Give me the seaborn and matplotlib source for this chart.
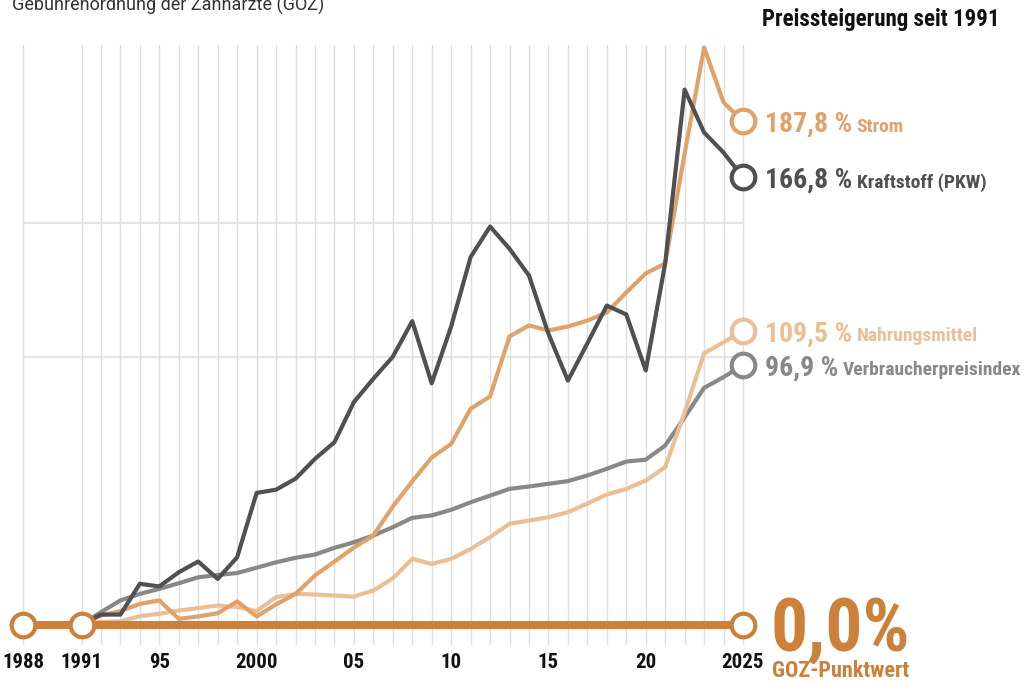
import matplotlib
matplotlib.use("Agg")
import matplotlib.pyplot as plt
import seaborn as sns
import pandas as pd
from matplotlib import font_manager

# -----------------------------------------------------
# DATA  (Preissteigerung seit 1991 in %)
# -----------------------------------------------------
years = list(range(1991, 2026))

kraftstoff = [0, 3.7, 3.7, 15.2, 14.2, 19.5, 23.5, 17.0, 25.1, 49.1,
              50.3, 54.4, 61.8, 68.0, 83.0, 91.7, 99.9, 113.2, 90.0, 111.2,
              137.1, 148.5, 140.2, 130.2, 108.5, 91.0, 104.9, 119.0, 115.7, 94.8,
              134.7, 199.6, 183.6, 176.1, 166.8]

strom = [0, 3.4, 5.0, 7.7, 9.0, 2.1, 3.0, 4.2, 8.6, 3.0,
         7.5, 11.4, 18.3, 23.5, 28.7, 33.2, 44.0, 53.4, 62.3, 67.4,
         80.5, 85.1, 107.5, 111.6, 109.7, 111.2, 113.4, 116.4, 123.9, 131.0,
         134.7, 175.7, 215.3, 194.8, 187.8]

nahrung = [0, 0.9, 1.2, 3.1, 4.0, 5.2, 6.1, 7.1, 6.5, 5.0,
           10.2, 11.4, 11.2, 10.8, 10.4, 12.7, 17.2, 24.5, 22.6, 24.5,
           28.2, 32.6, 37.6, 38.8, 40.0, 41.9, 45.1, 48.5, 50.6, 53.7,
           58.7, 79.1, 101.2, 105.3, 109.5]

vpi = [0, 4.6, 9.0, 11.4, 13.3, 15.4, 17.6, 18.5, 19.2, 21.2,
       23.2, 24.9, 26.1, 28.6, 30.7, 33.2, 36.3, 39.8, 40.7, 42.8,
       45.6, 48.1, 50.6, 51.5, 52.5, 53.5, 55.6, 58.1, 60.8, 61.5,
       66.8, 77.3, 88.3, 92.3, 96.9]

goz_years = [1988, 1991, 2025]
goz_values = [0, 0, 0]

series_names = ["Verbraucherpreisindex", "Nahrungsmittel", "Strom", "Kraftstoff (PKW)"]
series_values = [vpi, nahrung, strom, kraftstoff]

grid_years = [1988, 1991] + list(range(1992, 2026))
tick_text = {1988: "1988", 1991: "1991", 1995: "95", 2000: "2000", 2005: "05",
             2010: "10", 2015: "15", 2020: "20", 2025: "2025"}

colors = {"Verbraucherpreisindex": "#888888",
          "Nahrungsmittel": "#ebbf95",
          "Strom": "#dfa26a",
          "Kraftstoff (PKW)": "#505050"}
goz_color = "#cc803a"

df = pd.DataFrame({
    "Jahr": years * len(series_names),
    "Wert": sum(series_values, []),
    "Serie": [n for n in series_names for _ in years],
})

# -----------------------------------------------------
# STYLE
# -----------------------------------------------------
sns.set_style("white")
available = {f.name for f in font_manager.fontManager.ttflist}
cond = next((n for n in ["Roboto Condensed", "Liberation Sans Narrow", "Open Sans Condensed"]
             if n in available), "Roboto")
plt.rcParams["font.family"] = [cond, "DejaVu Sans"]

W, H = 1029, 681
fig = plt.figure(figsize=(W / 100, H / 100), dpi=100)
ax = fig.add_axes([0, (H - 645) / H, 1, 600 / H])

px_year = (743 - 81.5) / 34
ax.set_xlim(1991 - 81.5 / px_year, 1991 + (W - 81.5) / px_year)
px_pct = 2.68
y0 = 624.5
ax.set_ylim(-(645 - y0) / px_pct, (y0 - 45) / px_pct)

ax.set_xticks(grid_years, labels=[tick_text.get(y, "") for y in grid_years])
ax.set_yticks([])
ax.grid(axis="x", color="#dedede", lw=1)
ax.tick_params(axis="x", length=0, pad=6, labelsize=15, labelcolor="#111111")
for lab in ax.get_xticklabels():
    lab.set_fontweight("bold")
for s in ax.spines.values():
    s.set_visible(False)

ax.hlines([100, 150], 1988, 2025, color="#e6e6e6", lw=1.5, zorder=0.5)

# -----------------------------------------------------
# LINES
# -----------------------------------------------------
sns.lineplot(data=df, x="Jahr", y="Wert", hue="Serie", hue_order=series_names,
             palette=colors, lw=3.0, legend=False, estimator=None, ax=ax, zorder=3)
ax.set_xlabel("")
ax.set_ylabel("")

ax.plot([goz_years[0], goz_years[-1]], [goz_values[0], goz_values[-1]],
        color=goz_color, lw=5.8, solid_capstyle="butt", zorder=5)
ax.plot(goz_years, goz_values, "o", ms=17, mfc="white", mec=goz_color, mew=3,
        zorder=6, clip_on=False)

# end markers + labels
for name, vals in zip(series_names, series_values):
    c = colors[name]
    v = vals[-1]
    ax.plot(years[-1], v, "o", ms=17, mfc="white", mec=c, mew=3, zorder=7, clip_on=False)
    t = ax.annotate(f"{v:.1f} %".replace(".", ","), xy=(years[-1], v), xytext=(16, -7.5),
                    textcoords="offset points", va="baseline", ha="left",
                    fontsize=20, fontweight="bold", color=c)
    ax.annotate(name, xy=(1, v), xycoords=(t, "data"), xytext=(3, -7.5),
                textcoords="offset points", va="baseline", ha="left",
                fontsize=14, fontweight="bold", color=c)

ax.annotate("0,0%", xy=(2025, 0), xytext=(20, -18.5), textcoords="offset points",
            va="baseline", ha="left", fontsize=53, fontweight="bold", color=goz_color)
ax.annotate("GOZ-Punktwert", xy=(2025, 0), xytext=(21, -37.5), textcoords="offset points",
            va="baseline", ha="left", fontsize=16, fontweight="bold", color=goz_color,
            annotation_clip=False)

# -----------------------------------------------------
# TEXT
# -----------------------------------------------------
fig.text(1000 / W, 1 - 26 / H, "Preissteigerung seit 1991", ha="right", va="baseline",
         fontsize=16.5, fontweight="bold", color="#111111")
fig.text(12 / W, 1 - 10.5 / H, "Gebührenordnung der Zahnärzte (GOZ)", ha="left",
         va="baseline", fontsize=13, color="#333333", family=["Roboto", "DejaVu Sans"])

fig.savefig("out.png", dpi=100)
